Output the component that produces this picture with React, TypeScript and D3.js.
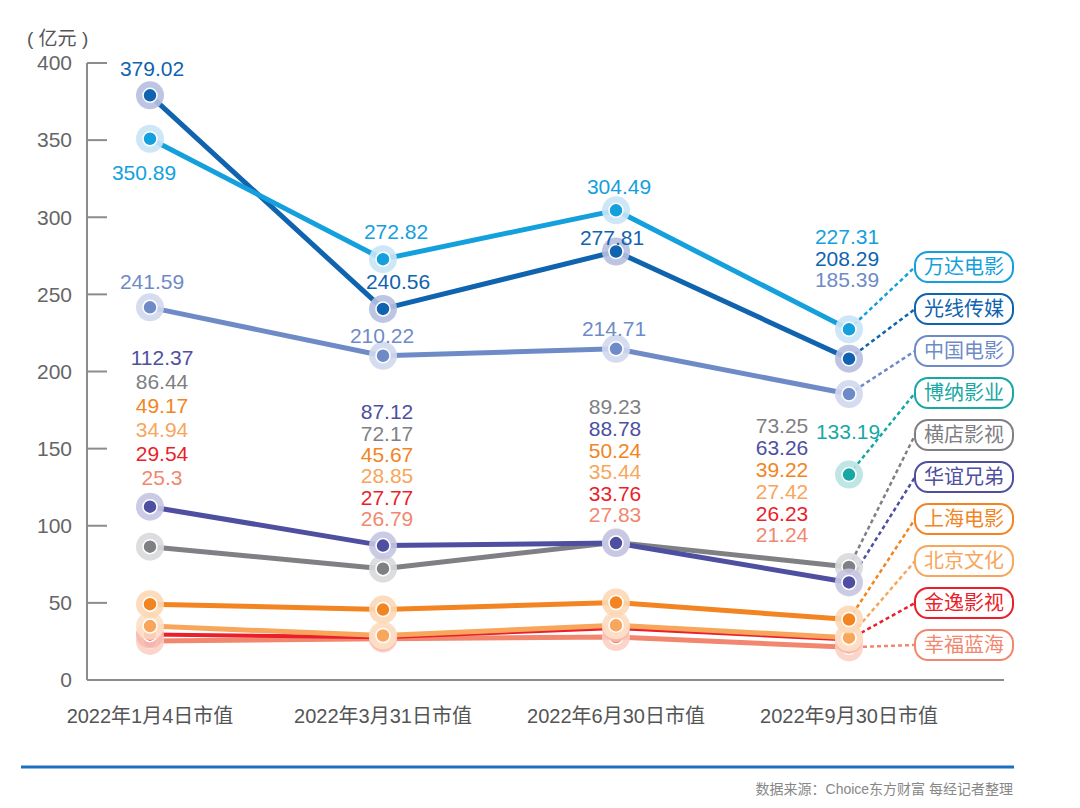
import React from "react";
import * as d3 from "d3";

const dates = ["2022年1月4日市值", "2022年3月31日市值", "2022年6月30日市值", "2022年9月30日市值"];
const yTicks = [0, 50, 100, 150, 200, 250, 300, 350, 400];

const wanda = [350.89, 272.82, 304.49, 227.31];
const guangxian = [379.02, 240.56, 277.81, 208.29];
const zhongying = [241.59, 210.22, 214.71, 185.39];
const bona: (number | null)[] = [null, null, null, 133.19];
const hengdian = [86.44, 72.17, 89.23, 73.25];
const huayi = [112.37, 87.12, 88.78, 63.26];
const shangying = [49.17, 45.67, 50.24, 39.22];
const beijing = [34.94, 28.85, 35.44, 27.42];
const jinyi = [29.54, 27.77, 33.76, 26.23];
const xingfu = [25.3, 26.79, 27.83, 21.24];

const names = ["万达电影", "光线传媒", "中国电影", "博纳影业", "横店影视", "华谊兄弟", "上海电影", "北京文化", "金逸影视", "幸福蓝海"];

type Series = { name: string; values: (number | null)[]; color: string; halo: string; width: number };

const series: Series[] = [
  { name: names[0], values: wanda, color: "#14a0dc", halo: "#c8e4f6", width: 5 },
  { name: names[1], values: guangxian, color: "#0f63af", halo: "#b6bfe0", width: 5 },
  { name: names[2], values: zhongying, color: "#6f8bc7", halo: "#d2d8ee", width: 5 },
  { name: names[3], values: bona, color: "#17a8a5", halo: "#b8e3e2", width: 5 },
  { name: names[4], values: hengdian, color: "#808084", halo: "#d8d9dc", width: 5 },
  { name: names[5], values: huayi, color: "#4e4fa1", halo: "#c5c5e3", width: 5 },
  { name: names[6], values: shangying, color: "#f28522", halo: "#fcd8b6", width: 5 },
  { name: names[7], values: beijing, color: "#f7a65c", halo: "#fde0c5", width: 5 },
  { name: names[8], values: jinyi, color: "#ea1f2b", halo: "#f7b9b0", width: 4 },
  { name: names[9], values: xingfu, color: "#f2876f", halo: "#fbd0c4", width: 5 },
];

const FONT = '"Liberation Sans", Arial, "Noto Sans CJK SC", sans-serif';

export default function App() {
  const W = 1080, H = 808;
  const x = d3.scalePoint<string>().domain(dates).range([150, 849]);
  const y = d3.scaleLinear().domain([0, 400]).range([680, 63]);
  const axisX = 87;
  const line = d3
    .line<[number, number | null]>()
    .defined((d) => d[1] != null)
    .x((d) => x(dates[d[0]])!)
    .y((d) => y(d[1] as number));

  // label layout
  const bigOffsets: Record<string, [number, number][]> = {
    [names[1]]: [[2, -27], [15, -27], [-4, -14]],
    [names[0]]: [[-6, 34], [13, -28], [3, -24]],
    [names[2]]: [[2, -26], [-1, -20], [-2, -20]],
  };
  const bigNames = [names[0], names[1], names[2]];
  const smallNames = [names[4], names[5], names[6], names[7], names[8], names[9]];
  const smallCols = [
    { dx: 12, top: 358, step: 24 },
    { dx: 4, top: 412, step: 21.3 },
    { dx: -1, top: 407, step: 21.6 },
    { dx: -67, top: 426, step: 21.8 },
  ];
  const labels: { x: number; y: number; text: string; color: string }[] = [];
  series.forEach((s) => {
    if (bigNames.includes(s.name)) {
      s.values.forEach((v, i) => {
        if (v == null) return;
        const px = x(dates[i])!;
        if (i < 3) {
          const [dx, dy] = bigOffsets[s.name][i];
          labels.push({ x: px + dx, y: y(v) + dy, text: String(v), color: s.color });
        }
      });
    }
  });
  {
    const i = 3;
    const sorted = series.filter((s) => bigNames.includes(s.name)).sort((a, b) => (b.values[i] as number) - (a.values[i] as number));
    sorted.forEach((s, k) => {
      labels.push({ x: x(dates[i])! - 2, y: 237 + k * 21.5, text: String(s.values[i]), color: s.color });
    });
  }
  dates.forEach((d, i) => {
    const col = smallCols[i];
    const sorted = series
      .filter((s) => smallNames.includes(s.name))
      .sort((a, b) => (b.values[i] as number) - (a.values[i] as number));
    sorted.forEach((s, k) => {
      labels.push({ x: x(d)! + col.dx, y: col.top + k * col.step, text: String(s.values[i]), color: s.color });
    });
  });
  const bonaS = series[3];
  labels.push({ x: x(dates[3])! - 1, y: y(bona[3] as number) - 43, text: String(bona[3]), color: bonaS.color });

  const legX = 915, legW = 98, legH = 30, legTop = 267, legStep = 42;
  const legendY = (k: number) => legTop + k * legStep;

  const drawOrder = [9, 8, 7, 6, 4, 5, 3, 2, 1, 0];

  return (
    <svg width={W} height={H} style={{ position: "absolute", left: 0, top: 0, background: "#fff" }} fontFamily={FONT}>
      <rect x={0} y={0} width={W} height={H} fill="#fff" />
      <text x={27} y={38} dy="0.35em" fontSize={19} fill="#555">( 亿元 )</text>
      <line x1={axisX} x2={axisX} y1={y(400)} y2={y(0)} stroke="#8c8c8c" strokeWidth={2} />
      <line x1={axisX} x2={1004} y1={y(0)} y2={y(0)} stroke="#8c8c8c" strokeWidth={2} />
      {yTicks.map((t) => (
        <g key={t}>
          {t > 0 && <line x1={axisX} x2={107} y1={y(t)} y2={y(t)} stroke="#8c8c8c" strokeWidth={2} />}
          <text x={72} y={y(t)} dy="0.35em" textAnchor="end" fontSize={21} fill="#666">{t}</text>
        </g>
      ))}
      {dates.map((d) => (
        <text key={d} x={x(d)} y={716} dy="0.35em" textAnchor="middle" fontSize={20} fill="#555">{d}</text>
      ))}
      {series.map((s, k) => {
        const v = s.values[3] as number;
        return (
          <line key={s.name} x1={x(dates[3])} y1={y(v)} x2={legX} y2={legendY(k)} stroke={s.color} strokeWidth={2.5} strokeDasharray="4 3" />
        );
      })}
      {drawOrder.map((k) => {
        const s = series[k];
        const pts = s.values.map((v, i) => [i, v] as [number, number | null]);
        return <path key={s.name} d={line(pts) || ""} fill="none" stroke={s.color} strokeWidth={s.width} strokeLinejoin="round" />;
      })}
      {drawOrder.map((k) => {
        const s = series[k];
        return (
          <g key={s.name}>
            {s.values.map((v, i) =>
              v == null ? null : (
                <g key={i}>
                  <circle cx={x(dates[i])} cy={y(v)} r={14} fill={s.halo} opacity={0.9} />
                  <circle cx={x(dates[i])} cy={y(v)} r={7} fill={s.color} stroke="#fff" strokeWidth={1.5} />
                </g>
              )
            )}
          </g>
        );
      })}
      {labels.map((l, i) => (
        <text key={i} x={l.x} y={l.y} dy="0.35em" textAnchor="middle" fontSize={21} fill={l.color}>{l.text}</text>
      ))}
      {series.map((s, k) => (
        <g key={s.name}>
          <rect x={legX} y={legendY(k) - legH / 2} width={legW} height={legH} rx={13} fill="#fff" stroke={s.color} strokeWidth={2} />
          <text x={legX + legW / 2} y={legendY(k)} dy="0.36em" textAnchor="middle" fontSize={20} fill={s.color}>{s.name}</text>
        </g>
      ))}
      <line x1={21} x2={1014} y1={767} y2={767} stroke="#1f6fbf" strokeWidth={3} />
      <text x={1013} y={789} dy="0.35em" textAnchor="end" fontSize={14} fill="#888">数据来源：Choice东方财富 每经记者整理</text>
    </svg>
  );
}
